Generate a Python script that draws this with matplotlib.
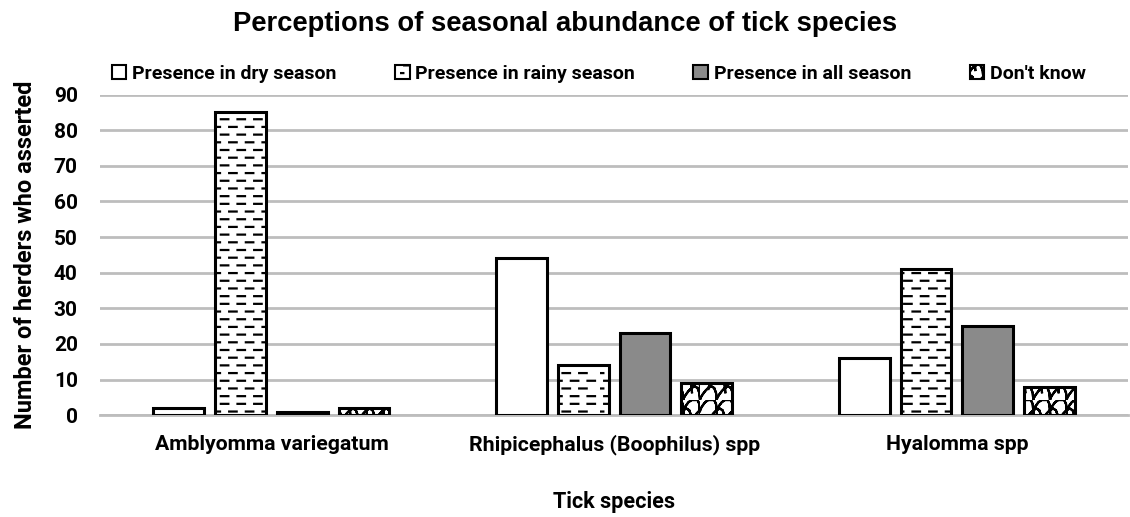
import warnings
import numpy as np
import matplotlib
matplotlib.use("Agg")
import matplotlib.pyplot as plt
import matplotlib.hatch as mhatch
from matplotlib.path import Path
from matplotlib.patches import Patch

warnings.filterwarnings("ignore")

species = ["Amblyomma variegatum", "Rhipicephalus (Boophilus) spp", "Hyalomma spp"]
dry = [2, 44, 16]
rainy = [85, 14, 41]
all_season = [1, 23, 25]
dont_know = [2, 9, 8]
labels = ["Presence in dry season", "Presence in rainy season",
          "Presence in all season", "Don't know"]


# brick-like short dashes ("d") and wavy scales ("w") - not built into matplotlib
class DashHatch(mhatch.HatchPatternBase):
    def __init__(self, hatch, density):
        self.n = hatch.count('d')
        self.rows = 13 * self.n
        self.cols = 6
        self.num_vertices = self.rows * self.cols * 2 if self.n else 0

    def set_vertices_and_codes(self, vertices, codes):
        k = 0
        for r in range(self.rows):
            y = (r + 0.5) / self.rows
            off = 0.0 if r % 2 == 0 else 0.5 / self.cols
            for c in range(self.cols):
                x0 = (c + 0.25) / self.cols + off
                x1 = x0 + 0.45 / self.cols
                if x1 > 1:
                    x0 -= 1
                    x1 -= 1
                vertices[k] = (max(x0, 0), y)
                vertices[k + 1] = (x1, y)
                codes[k] = Path.MOVETO
                codes[k + 1] = Path.LINETO
                k += 2


class WaveHatch(mhatch.HatchPatternBase):
    seg = 8

    def __init__(self, hatch, density):
        self.n = hatch.count('w')
        self.rows = 9 * self.n
        self.cols = 6
        # each arc is drawn out and back so it encloses no area
        self.per = 2 * self.seg + 1
        self.num_vertices = self.rows * self.cols * self.per if self.n else 0

    def set_vertices_and_codes(self, vertices, codes):
        k = 0
        t = np.linspace(np.pi, 0, self.seg + 1)
        w = 1.0 / self.cols
        h = 1.0 / self.rows
        for r in range(self.rows):
            y = r * h
            off = 0.0 if r % 2 == 0 else w / 2
            for c in range(self.cols):
                xc = (c + 0.5) * w + off
                if xc > 1:
                    xc -= 1
                xs = np.clip(xc + np.cos(t) * w / 2, 0, 1)
                ys = np.clip(y + np.sin(t) * h * 1.1 + np.sin(2 * t) * h * 0.3, 0, 1)
                xs = np.concatenate([xs, xs[-2::-1]])
                ys = np.concatenate([ys, ys[-2::-1]])
                vertices[k:k + self.per, 0] = xs
                vertices[k:k + self.per, 1] = ys
                codes[k] = Path.MOVETO
                codes[k + 1:k + self.per] = Path.LINETO
                k += self.per


mhatch._hatch_types.append(DashHatch)
mhatch._hatch_types.append(WaveHatch)

plt.rcParams["font.family"] = ["Roboto", "DejaVu Sans"]
plt.rcParams["hatch.linewidth"] = 1.6
plt.rcParams["hatch.color"] = "black"

fig = plt.figure(figsize=(11.3, 5.17), dpi=100)
ax = fig.add_axes([0.0885, 0.197, 0.91, 0.62])

x = np.arange(len(species))
width = 0.148
step = 0.18
series = [dry, rainy, all_season, dont_know]
fills = ["white", "white", "#8a8a8a", "white"]
hatches = [None, "d", None, "w"]
for i, (vals, fc, h) in enumerate(zip(series, fills, hatches)):
    ax.bar(x + (i - 1.5) * step, vals, width, color=fc, edgecolor="black",
           linewidth=2.2, hatch=h, label=labels[i], zorder=3)

ax.set_xlim(-0.5, 2.5)
ax.set_ylim(0, 90)
ax.set_yticks(range(0, 91, 10))
ax.yaxis.grid(True, color="#bdbdbd", linewidth=2, zorder=0)
ax.set_axisbelow(True)
for s in ["top", "right", "left"]:
    ax.spines[s].set_visible(False)
ax.spines["bottom"].set_color("#bdbdbd")
ax.spines["bottom"].set_linewidth(2)
ax.tick_params(axis="y", length=0, labelsize=15, pad=16)
ax.tick_params(axis="x", length=0, pad=14)
ax.set_xticks(x)
ax.set_xticklabels(species, fontweight="bold", fontsize=15.3)
for lbl in ax.get_yticklabels():
    lbl.set_fontweight("bold")
ax.set_xlabel("Tick species", fontweight="bold", fontsize=15.5, labelpad=26)
ax.set_ylabel("Number of herders who asserted", fontweight="bold", fontsize=17, labelpad=12)

fig.suptitle("Perceptions of seasonal abundance of tick species", y=0.978,
             fontsize=19.7, fontweight="bold", family=["Liberation Sans", "DejaVu Sans"])

handles = [Patch(facecolor=fc, edgecolor="black", linewidth=1.5, hatch=h)
           for fc, h in zip(fills, hatches)]
fig.legend(handles, labels, ncol=4, loc="center", bbox_to_anchor=(0.53, 0.857),
           frameon=False, handlelength=0.75, handleheight=0.75, handletextpad=0.3,
           columnspacing=3.0, prop={"weight": "bold", "size": 14})

fig.savefig("out.png", dpi=100)
